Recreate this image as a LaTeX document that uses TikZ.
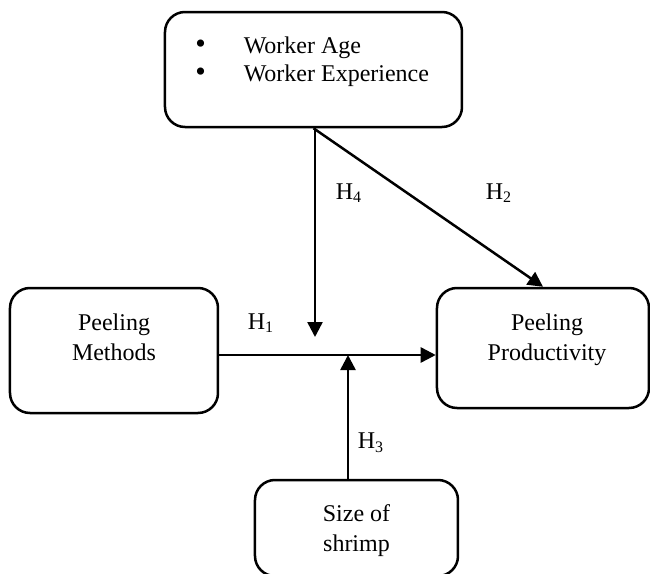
\documentclass[tikz,border=0pt]{standalone}
\usepackage{fontspec}
\setmainfont{Liberation Serif}
\usetikzlibrary{arrows.meta}
\newcommand{\bigdot}{{\fontsize{15}{14}\selectfont\textbullet}}
\begin{document}
\begin{tikzpicture}[x=0.5pt, y=-0.5pt, line width=1.25pt,
    box/.style={draw, rounded corners=10pt, inner sep=0pt},
    arr/.style={-{Triangle[length=7.5pt, width=7.5pt]}},
    txt/.style={inner sep=0pt, align=center, font=\fontsize{12}{15}\selectfont}]
  \clip (0, 0) rectangle (650, 574);
  \fill[white] (0, 0) rectangle (650, 574);
  % boxes
  \node[box, minimum width=148.5pt, minimum height=57.5pt] (worker) at (313.5, 69.5) {};
  \node[box, minimum width=104pt, minimum height=62.5pt] (methods) at (114, 350.5) {};
  \node[box, minimum width=106pt, minimum height=60pt] (prod) at (543, 348) {};
  \node[box, minimum width=101.5pt, minimum height=48pt] (shrimp) at (356.5, 528) {};
  % texts
  \node[txt, anchor=base west, font=\fontsize{12}{14}\selectfont] (items) at (194, 53)
    {\begin{tabular}[t]{@{}l@{\hspace{19pt}}l@{}}
       \bigdot & Worker Age\\
       \bigdot & Worker Experience
     \end{tabular}};
  \node[txt] (methodstxt) at (114, 337) {Peeling\\Methods};
  \node[txt] (prodtxt) at (547, 340) {Peeling\\Productivity};
  \node[txt] (shrimptxt) at (356.5, 531) {Size of\\shrimp};
  % arrows
  \coordinate (join) at (348, 355);
  \coordinate (drop) at (315, 337);
  \draw[arr] (methods.east |- join) -- (prod.west |- join);
  \draw[arr] (worker.south -| drop) -- (drop);
  \draw[arr] (worker.south) -- (prod.north);
  \draw[arr] (shrimp.north -| join) -- (join);
  % hypotheses
  \node[txt] (h1) at (261, 323) {H\textsubscript{1}};
  \node[txt] (h2) at (499, 193) {H\textsubscript{2}};
  \node[txt] (h3) at (371, 443) {H\textsubscript{3}};
  \node[txt] (h4) at (349, 193) {H\textsubscript{4}};
\end{tikzpicture}
\end{document}
